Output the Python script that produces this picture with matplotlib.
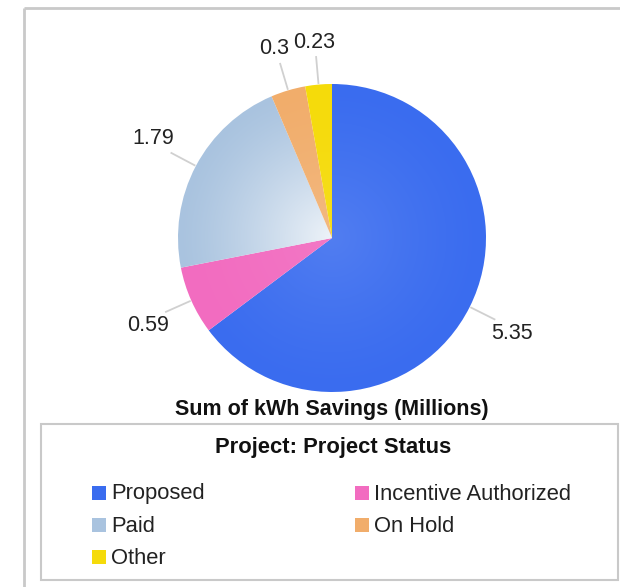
import numpy as np
import matplotlib
matplotlib.use("Agg")
import matplotlib.pyplot as plt
from matplotlib.patches import Rectangle
from matplotlib.colors import to_rgb

plt.rcParams['font.family'] = ['Liberation Sans', 'DejaVu Sans']

# data
statuses = ['Proposed', 'Incentive Authorized', 'Paid', 'On Hold', 'Other']
savings = [5.35, 0.59, 1.79, 0.3, 0.23]
value_labels = ['5.35', '0.59', '1.79', '0.3', '0.23']
colors = ['#3a6cef', '#f26cc0', '#a9c3df', '#f1ad6b', '#f5db0a']
center_light = [0.12, 0.08, 0.8, 0.15, 0.08]   # how much the slice whitens toward the centre

W, H = 620, 587
fig = plt.figure(figsize=(W / 100, H / 100), dpi=100)

# overlay in pixel coords for frame + legend
ov = fig.add_axes([0, 0, 1, 1])
ov.set_xlim(0, W)
ov.set_ylim(H, 0)
ov.axis('off')

gray = '#c9c9c9'
ov.plot([24, 24], [8, H], color=gray, lw=2, solid_capstyle='butt')
ov.plot([24, W], [8, 8], color=gray, lw=2, solid_capstyle='butt')

# pie axes: centre at (332,238) px, radius 154 px
cx, cy, R = 332, 238, 154
half = 1.6 * R
ax = fig.add_axes([(cx - half) / W, (H - cy - half) / H, 2 * half / W, 2 * half / H])

wedges, _ = ax.pie(savings, colors=colors, startangle=90, counterclock=False,
                   radius=1.0, wedgeprops=dict(linewidth=0))

# radial gradient inside each wedge
n = 400
g = np.linspace(-1, 1, n)
xx, yy = np.meshgrid(g, g)
rr = np.clip(np.sqrt(xx ** 2 + yy ** 2), 0, 1)
for w, c, lt in zip(wedges, colors, center_light):
    base = np.array(to_rgb(c))
    mix = (lt * (1 - rr) ** 1.3)[..., None]
    img = base * (1 - mix) + np.ones(3) * mix
    im = ax.imshow(img, extent=(-1, 1, -1, 1), origin='lower', zorder=2)
    im.set_clip_path(w)
    w.set_facecolor('none')

# value labels with short leader lines
for w, lab in zip(wedges, value_labels):
    ang = np.deg2rad((w.theta1 + w.theta2) / 2)
    ca, sa = np.cos(ang), np.sin(ang)
    ax.plot([1.01 * ca, 1.18 * ca], [1.01 * sa, 1.18 * sa], color='#d0d0d0', lw=1.3, zorder=1)
    tx = 1.31 * ca
    ty = 1.27 * sa + 0.056 * np.sign(sa) * abs(ca)
    ax.text(tx, ty, lab, ha='center', va='center', fontsize=15.5, color='#222222')

ax.set_aspect('auto')
ax.set_xlim(-1.6, 1.6)
ax.set_ylim(-1.6, 1.6)
ax.axis('off')

ov.text(332, 409, 'Sum of kWh Savings (Millions)', ha='center', va='center',
        fontsize=15.5, fontweight='bold', color='#111111')

# legend box
ov.add_patch(Rectangle((41, 424), 577, 156, facecolor='white', edgecolor=gray, lw=1.5))
ov.text(333, 448, 'Project: Project Status', ha='center', va='center',
        fontsize=15.8, fontweight='bold', color='#111111')
col_x = [92, 355]
row_y = [493, 525, 557]
for i, (name, c) in enumerate(zip(statuses, colors)):
    x0 = col_x[i % 2]
    y0 = row_y[i // 2]
    ov.add_patch(Rectangle((x0, y0 - 7), 14, 14, facecolor=c, edgecolor='none'))
    ov.text(x0 + 19, y0 + 1, name, ha='left', va='center', fontsize=15.8, color='#222222')

fig.savefig('out.png', dpi=100)
